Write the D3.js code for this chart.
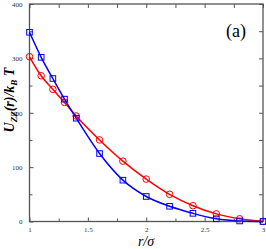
<!DOCTYPE html>
<html lang="en">
<head>
<meta charset="UTF-8">
<title>U_ZZ(r)</title>
<script src="https://cdn.jsdelivr.net/npm/d3@7"></script>
<style>
  body { margin: 0; background: #fff; }
  svg { display: block; }
  svg text { font-family: "Liberation Serif", "Times New Roman", "DejaVu Serif", serif; }
</style>
</head>
<body>
<div id="chart"></div>
<script>
    // values
    var rBlue = [1.0, 1.1, 1.2, 1.3, 1.4, 1.6, 1.8, 2.0, 2.2, 2.4, 2.6, 2.8, 3.0];
    var uBlue = [348, 302, 263, 225, 190, 125, 76, 46, 28, 15, 5, 1, 0];
    var rRed = [1.0, 1.1, 1.2, 1.3, 1.4, 1.6, 1.8, 2.0, 2.2, 2.4, 2.6, 2.8, 3.0];
    var uRed = [303, 268, 243, 219, 194, 150, 111, 78, 50, 29, 14, 5, 0];
    var xTicks = [1, 1.5, 2, 2.5, 3];
    var yTicks = [0, 100, 200, 300, 400];

    var W = 266, H = 249;
    var m = {left: 29.5, right: 3, top: 4, bottom: 27.5};

    var svg = d3.select('#chart').append('svg')
        .attr('width', W)
        .attr('height', H);

    var x = d3.scaleLinear().domain([1, 3]).range([m.left, W - m.right]);
    var y = d3.scaleLinear().domain([0, 400]).range([H - m.bottom, m.top]);

    var axisColor = '#555';

    // minor ticks every 0.25 / 50
    var xMinor = d3.range(1.25, 3, 0.5);
    var yMinor = d3.range(50, 400, 100);

    function styleAxis(g) {
        g.attr('font-family', null);
        g.select('.domain').remove();
        g.selectAll('line').attr('stroke', axisColor).attr('stroke-width', 1);
        g.selectAll('text').attr('font-size', 7).attr('fill', '#333');
    }

    // bottom
    svg.append('g').attr('transform', 'translate(0,' + y(0) + ')')
        .call(d3.axisBottom(x).tickValues(xTicks).tickFormat(d3.format('')).tickSizeInner(-4).tickPadding(6))
        .call(styleAxis);
    svg.append('g').attr('transform', 'translate(0,' + y(0) + ')')
        .call(d3.axisBottom(x).tickValues(xMinor).tickFormat('').tickSizeInner(-3))
        .call(styleAxis);
    // top
    svg.append('g').attr('transform', 'translate(0,' + y(400) + ')')
        .call(d3.axisTop(x).tickValues(xTicks.concat(xMinor)).tickFormat('').tickSizeInner(-4))
        .call(styleAxis);
    // left
    svg.append('g').attr('transform', 'translate(' + x(1) + ',0)')
        .call(d3.axisLeft(y).tickValues(yTicks).tickFormat(d3.format('')).tickSizeInner(-4).tickPadding(7))
        .call(styleAxis);
    svg.append('g').attr('transform', 'translate(' + x(1) + ',0)')
        .call(d3.axisLeft(y).tickValues(yMinor).tickFormat('').tickSizeInner(-3))
        .call(styleAxis);
    // right
    svg.append('g').attr('transform', 'translate(' + x(3) + ',0)')
        .call(d3.axisRight(y).tickValues(yTicks.concat(yMinor)).tickFormat('').tickSizeInner(-4))
        .call(styleAxis);

    // frame
    svg.append('rect')
        .attr('x', x(1)).attr('y', y(400))
        .attr('width', x(3) - x(1)).attr('height', y(0) - y(400))
        .attr('fill', 'none')
        .attr('stroke', axisColor)
        .attr('stroke-width', 1.3);

    var line = d3.line()
        .x(function(d){ return x(d[0]); })
        .y(function(d){ return y(d[1]); })
        .curve(d3.curveMonotoneX);

    var blue = d3.zip(rBlue, uBlue);
    var red = d3.zip(rRed, uRed);

    svg.append('path').datum(red)
        .attr('d', line)
        .attr('fill', 'none')
        .attr('stroke', '#ff0000')
        .attr('stroke-width', 1.5);

    svg.append('path').datum(blue)
        .attr('d', line)
        .attr('fill', 'none')
        .attr('stroke', '#0000ff')
        .attr('stroke-width', 1.5);

    svg.append('g').selectAll('circle')
        .data(red)
        .enter()
        .append('circle')
        .attr('cx', function(d){ return x(d[0]); })
        .attr('cy', function(d){ return y(d[1]); })
        .attr('r', 3.3)
        .attr('fill', 'none')
        .attr('stroke', '#ff0000')
        .attr('stroke-width', 1);

    svg.append('g').selectAll('rect')
        .data(blue)
        .enter()
        .append('rect')
        .attr('x', function(d){ return x(d[0]) - 2.8; })
        .attr('y', function(d){ return y(d[1]) - 2.8; })
        .attr('width', 5.6)
        .attr('height', 5.6)
        .attr('fill', 'none')
        .attr('stroke', '#0000ff')
        .attr('stroke-width', 1);

    // labels
    var yl = svg.append('text')
        .attr('transform', 'translate(14,' + 100 + ') rotate(-90)')
        .attr('text-anchor', 'middle')
        .attr('font-style', 'italic')
        .attr('font-weight', 'bold')
        .attr('font-size', 14);
    yl.append('tspan').text('U');
    yl.append('tspan').attr('font-size', 9).attr('dy', 3).text('ZZ');
    yl.append('tspan').attr('dy', -3).text('(r)/k');
    yl.append('tspan').attr('font-size', 9).attr('dy', 3).text('B');
    yl.append('tspan').attr('dy', -3).text(' T');

    svg.append('text')
        .attr('x', 146)
        .attr('y', 246)
        .attr('text-anchor', 'middle')
        .attr('font-style', 'italic')
        .attr('font-size', 14)
        .text('r/σ');

    svg.append('text')
        .attr('x', 236)
        .attr('y', 37)
        .attr('text-anchor', 'middle')
        .attr('font-size', 18)
        .text('(a)');
</script>
</body>
</html>
